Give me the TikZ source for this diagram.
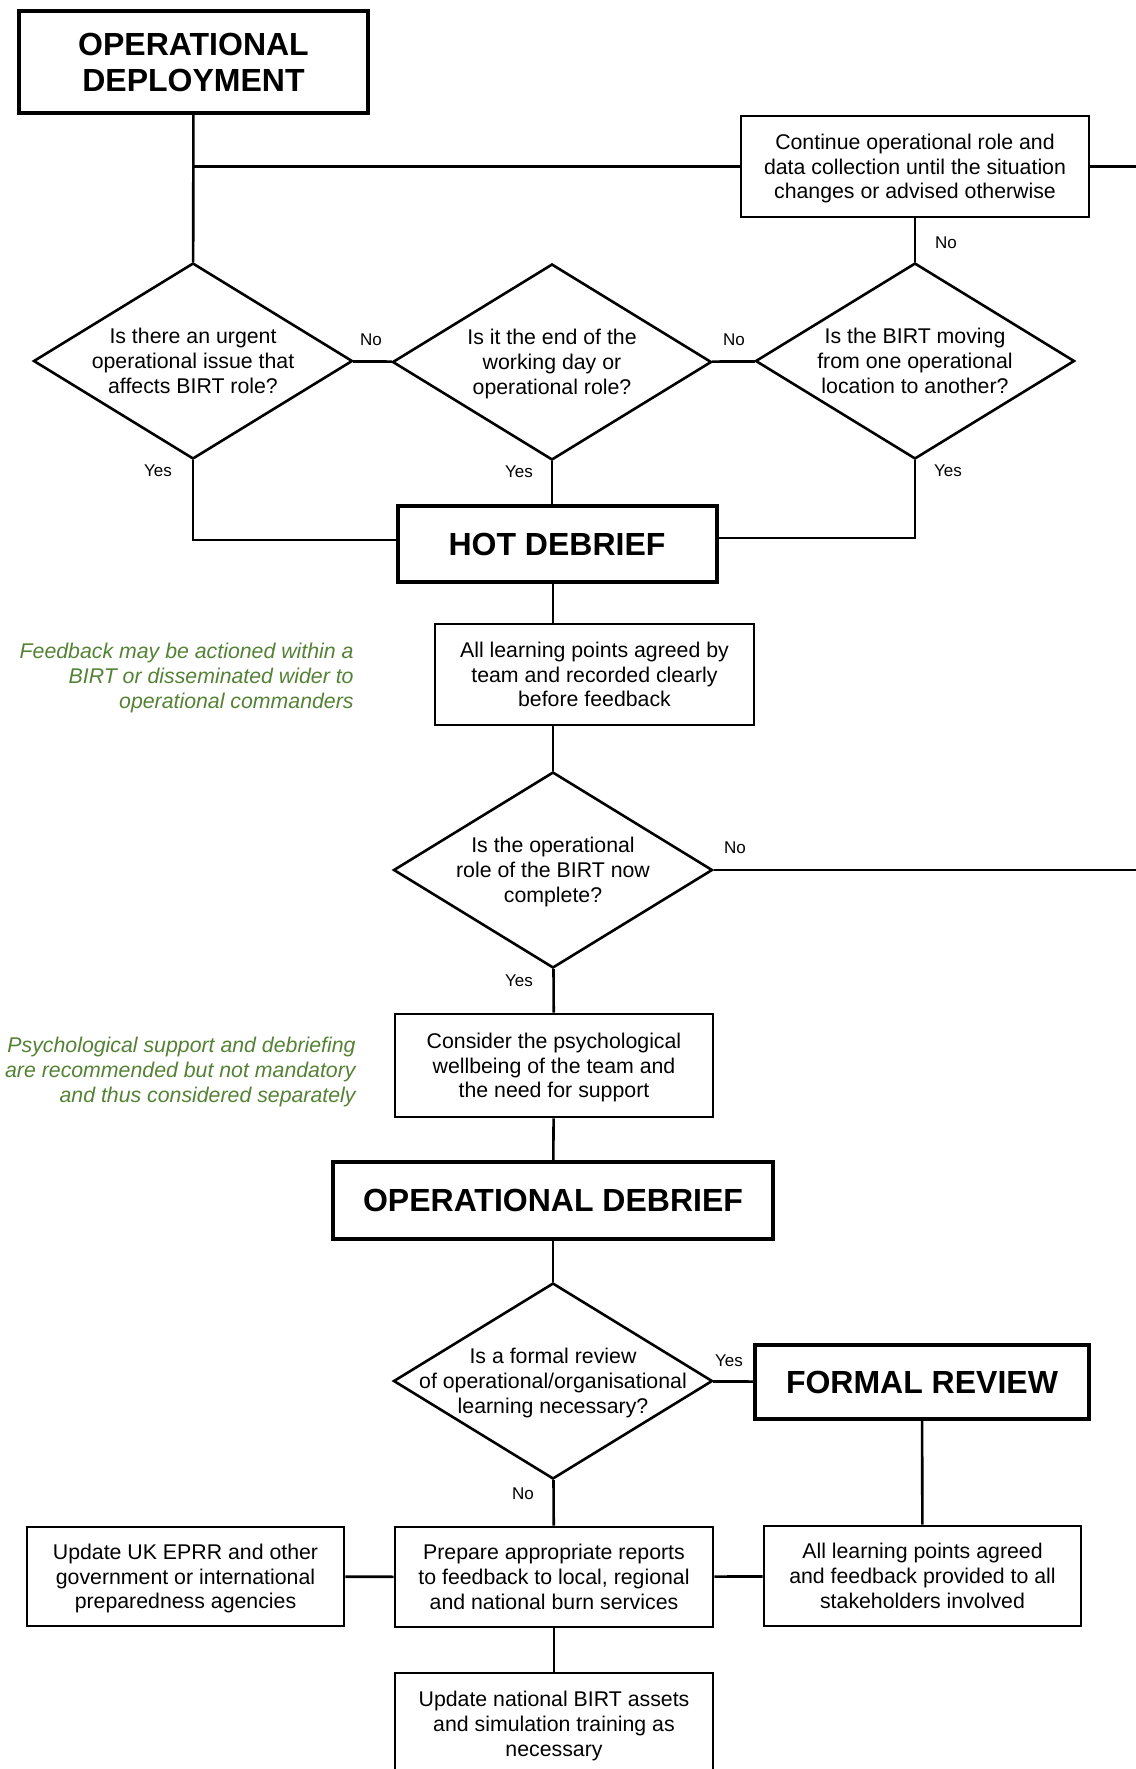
\documentclass[tikz,border=0pt]{standalone}
\usepackage{fontspec}
\setmainfont{Liberation Sans}
\usepackage{xcolor}
\usepackage{tikz}
\usetikzlibrary{shapes.geometric,positioning,calc}
\definecolor{NoteGreen}{HTML}{548235}
\newcommand\lines[1]{\raisebox{-1.3pt}[\height][\depth]{\begin{tabular}{@{}c@{}}#1\end{tabular}}}
\newcommand\qtext[1]{\makebox[0pt]{\lines{#1}}}
\newcommand\bodysize{\fontsize{10.65}{12.4}\selectfont}
\newcommand\headsize{\fontsize{16}{18}\selectfont\bfseries}
\newcommand\tagsize{\fontsize{8.5}{10}\selectfont}

\begin{document}
\begin{tikzpicture}[x=0.5pt, y=-0.5pt,
  bx/.style={draw, line width=1.3pt, inner sep=0pt, font=\bodysize},
  hd/.style={draw, line width=2pt, inner sep=0pt, align=center, font=\headsize},
  qn/.style={diamond, draw, line width=1.3pt, inner sep=0pt, aspect=1.6,
             minimum width=159.5pt, minimum height=98pt, font=\bodysize},
  yn/.style={inner sep=0pt, font=\tagsize},
  nt/.style={inner sep=0pt, anchor=east, align=right, text=NoteGreen, font=\bodysize\itshape},
  ln/.style={line width=1.3pt}]
\useasboundingbox (0,0) rectangle (1136,1769);
\coordinate (rim) at (1136,0);
\node[hd, minimum width=174.5pt, minimum height=51pt] (dep) at (193.5,62) {OPERATIONAL\\DEPLOYMENT};
\node[bx, minimum width=174pt, minimum height=50.5pt] (cont) at (915,166.5)
  {\lines{Continue operational role and\\data collection until the situation\\changes or advised otherwise}};
\node[qn] (urgent) at (193,361) {\qtext{Is there an urgent\\operational issue that\\affects BIRT role?}};
\node[qn] (endday) at (552,362) {\qtext{Is it the end of the\\working day or\\operational role?}};
\node[qn] (moving) at (915,361) {\qtext{Is the BIRT moving\\from one operational\\location to another?}};
\node[hd, minimum width=159.5pt, minimum height=38pt] (hot) at (557,544) {HOT DEBRIEF};
\node[bx, minimum width=159.5pt, minimum height=50.5pt] (learn) at (594.5,674.5)
  {\lines{All learning points agreed by\\team and recorded clearly\\before feedback}};
\node[qn] (done) at (553,870) {\qtext{Is the operational\\role of the BIRT now\\complete?}};
\node[bx, minimum width=159pt, minimum height=51.5pt] (psych) at (554,1065.5)
  {\lines{Consider the psychological\\wellbeing of the team and\\the need for support}};
\node[hd, minimum width=220pt, minimum height=38.5pt] (opdeb) at (553,1200.5) {OPERATIONAL DEBRIEF};
\node[qn] (formal) at (553,1381) {\qtext{Is a formal review\\of operational/organisational\\learning necessary?}};
\node[hd, minimum width=167pt, minimum height=37pt] (review) at (922,1382) {FORMAL REVIEW};
\node[bx, minimum width=159pt, minimum height=50pt] (reports) at (554,1577)
  {\lines{Prepare appropriate reports\\to feedback to local, regional\\and national burn services}};
\node[bx, minimum width=158.5pt, minimum height=49.5pt] (eprr) at (185.5,1576.5)
  {\lines{Update UK EPRR and other\\government or international\\preparedness agencies}};
\node[bx, minimum width=158.5pt, minimum height=50pt] (agreed) at (922.5,1576)
  {\lines{All learning points agreed\\and feedback provided to all\\stakeholders involved}};
\node[bx, minimum width=159pt, minimum height=51pt] (assets) at (554,1724)
  {\lines{Update national BIRT assets\\and simulation training as\\necessary}};
\node[nt] (fbnote) at (354,678) {Feedback may be actioned within a\\BIRT or disseminated wider to\\operational commanders};
\node[nt] (psnote) at (356,1072) {Psychological support and debriefing\\are recommended but not mandatory\\and thus considered separately};
\node[yn] (no1) at (946,243) {No};
\node[yn] (no2) at (371,340) {No};
\node[yn] (no3) at (734,340) {No};
\node[yn] (yes1) at (158,471) {Yes};
\node[yn] (yes2) at (519,472) {Yes};
\node[yn] (yes3) at (948,471) {Yes};
\node[yn] (no4) at (735,848) {No};
\node[yn] (yes4) at (519,981) {Yes};
\node[yn] (yes5) at (729,1361) {Yes};
\node[yn] (no5) at (523,1494) {No};
\draw[ln] (dep) -- (urgent);
\draw[ln] (dep.south |- cont.west) -- (cont.west); \draw[ln] (cont.east) -- (cont.east -| rim);
\draw[ln] (cont) -- (moving);
\draw[ln] (urgent) -- (endday); \draw[ln] (endday) -- (moving);
\draw[ln] (urgent.south) |- ([yshift=2pt]hot.west); \draw[ln] (moving.south) |- ([yshift=3pt]hot.east);
\draw[ln] (endday.south) -- (endday.south |- hot.north);
\draw[ln] (hot.south -| done) -- (learn.north -| done); \draw[ln] (learn.south -| done) -- (done.north);
\draw[ln] (done.east) -- (done.east -| rim);
\draw[ln] (done) -- (psych); \draw[ln] (psych) -- (opdeb); \draw[ln] (opdeb) -- (formal);
\draw[ln] (formal) -- (review); \draw[ln] (review) -- (agreed);
\draw[ln] (formal) -- (reports); \draw[ln] (reports) -- (eprr); \draw[ln] (reports) -- (agreed);
\draw[ln] (reports) -- (assets);
\end{tikzpicture}
\end{document}
